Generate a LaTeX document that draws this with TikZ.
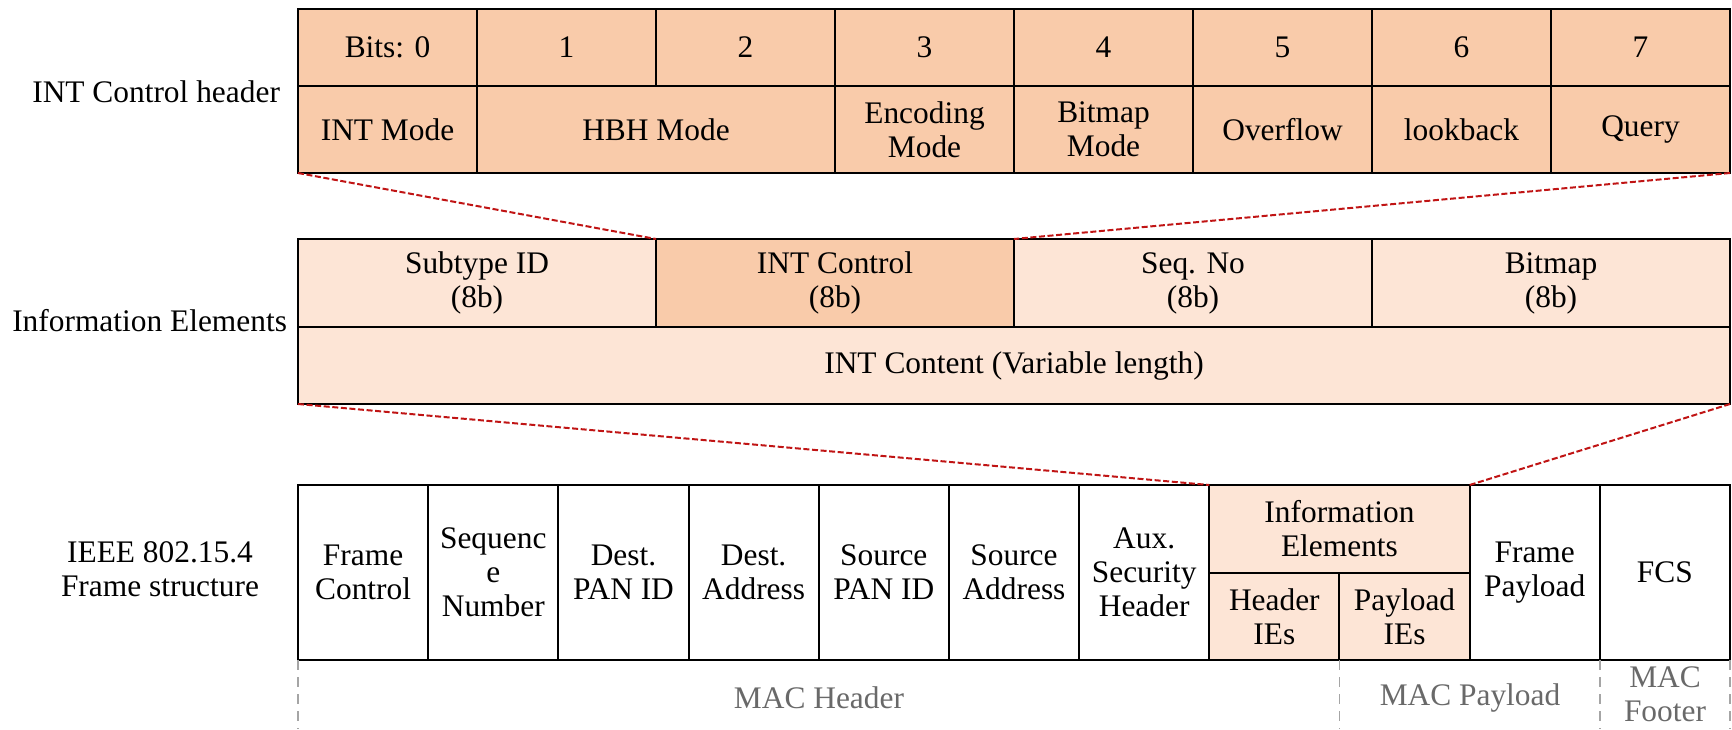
\documentclass[tikz,border=0pt]{standalone}
\usepackage{fontspec}
\setmainfont{Liberation Serif}
\usepackage{tikz}
\definecolor{ctrlfill}{RGB}{249,203,170}
\definecolor{iefill}{RGB}{253,229,214}
\definecolor{zoomred}{RGB}{192,20,20}
\definecolor{spangray}{RGB}{165,165,165}
\definecolor{labelgray}{RGB}{105,105,105}
\tikzset{
  cell/.style={draw, line width=1pt, rectangle, anchor=north west, inner sep=0pt, outer sep=0pt, align=center},
  zoomline/.style={zoomred, line width=1pt, dash pattern=on 3pt off 1.3pt},
  spanline/.style={spangray, line width=0.9pt, dash pattern=on 5pt off 3.5pt},
  spanlabel/.style={labelgray, align=center, inner sep=0pt}
}

\begin{document}
\begin{tikzpicture}[x=0.5pt, y=-0.5pt, font=\fontsize{15.7}{17}\selectfont]
  \useasboundingbox (0,0) rectangle (1732,729);

  \foreach \i/\t in {0/Bits: 0,1/1,2/2,3/3,4/4,5/5,6/6,7/7}
    \node[cell, fill=ctrlfill, minimum width=89.5pt, minimum height=38.5pt] (b\i) at (298+179*\i,9) {\t};
  \node[cell, fill=ctrlfill, minimum width=89.5pt, minimum height=43.5pt] (m0) at (298,86) {INT Mode};
  \node[cell, fill=ctrlfill, minimum width=179pt, minimum height=43.5pt] (m1) at (477,86) {HBH Mode};
  \foreach \i/\t in {3/{Encoding\\Mode},4/{Bitmap\\Mode},5/Overflow,6/lookback,7/Query}
    \node[cell, fill=ctrlfill, minimum width=89.5pt, minimum height=43.5pt] (m\i) at (298+179*\i,86) {\t};

  \foreach \i/\t in {0/Subtype ID,2/Seq. No,3/Bitmap}
    \node[cell, fill=iefill, minimum width=179pt, minimum height=44pt] (e\i) at (298+358*\i,239) {\t\\(8b)};
  \node[cell, fill=ctrlfill, minimum width=179pt, minimum height=44pt] (e1) at (656,239) {INT Control\\(8b)};
  \node[cell, fill=iefill, minimum width=716pt, minimum height=38.5pt] (content) at (298,327) {INT Content (Variable length)};

  \foreach \i/\t in {0/{Frame\\Control},1/{Sequenc\\e\\Number},2/{Dest.\\PAN ID},3/{Dest.\\Address},4/{Source\\PAN ID},5/{Source\\Address},6/{Aux.\\Security\\Header},9/{Frame\\Payload},10/FCS}
    \node[cell, minimum width=65.09pt, minimum height=87.5pt] (f\i) at (298+130.18*\i,485) {\t};
  \node[cell, fill=iefill, minimum width=130.18pt, minimum height=44pt] (ie) at (f6.north east) {Information\\Elements};
  \node[cell, fill=iefill, minimum width=65.09pt, minimum height=43.5pt] (hie) at (ie.south west) {Header\\IEs};
  \node[cell, fill=iefill, minimum width=65.09pt, minimum height=43.5pt] (pie) at (hie.north east) {Payload\\IEs};

  \node[anchor=east] (hdrlabel) at (287,92) {INT Control header};
  \node[anchor=east] (ielabel) at (294,321) {Information Elements};
  \node[align=center] (frmlabel) at (160,569) {IEEE 802.15.4\\Frame structure};

  \draw[zoomline] (m0.south west) -- (e1.north west);
  \draw[zoomline] (m7.south east) -- (e1.north east);
  \draw[zoomline] (content.south west) -- (ie.north west);
  \draw[zoomline] (content.south east) -- (ie.north east);

  \coordinate (floor) at (0,729);
  \foreach \n in {f0.south west, hie.south east, f10.south west, f10.south east}
    \draw[spanline] (\n) -- (\n |- floor);
  \node[spanlabel] (machdr) at (819,698) {MAC Header};
  \node[spanlabel] (macpay) at (1470,698) {MAC Payload};
  \node[spanlabel] (macftr) at (1665,694) {MAC\\Footer};
\end{tikzpicture}
\end{document}
